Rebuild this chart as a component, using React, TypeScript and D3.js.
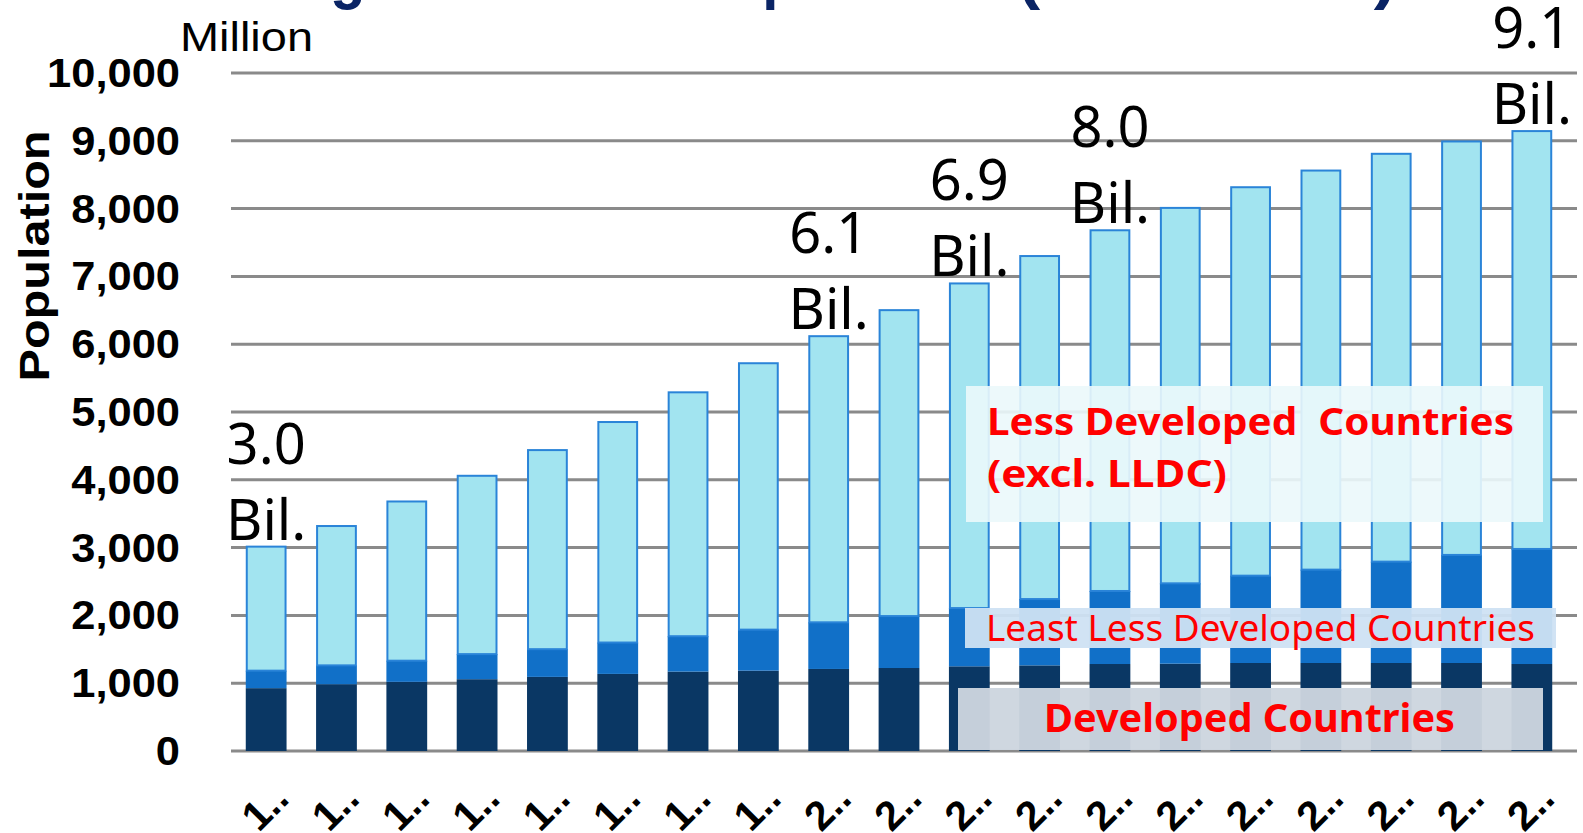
import React from 'react';
import * as d3 from 'd3';

const years = [1960, 1965, 1970, 1975, 1980, 1985, 1990, 1995, 2000, 2005, 2010, 2015, 2020, 2025, 2030, 2035, 2040, 2045, 2050];
const developed = [927, 985, 1020, 1059, 1093, 1137, 1171, 1185, 1210, 1224, 1249, 1263, 1283, 1288, 1298, 1298, 1298, 1298, 1283];
const leastDeveloped = [258, 278, 312, 370, 409, 463, 522, 605, 688, 766, 859, 978, 1077, 1185, 1288, 1377, 1495, 1594, 1697];
const otherLessDeveloped = [1844, 2070, 2363, 2645, 2951, 3267, 3612, 3944, 4235, 4527, 4803, 5074, 5335, 5552, 5744, 5901, 6030, 6113, 6178];
const xTickLabels = ['1..', '1..', '1..', '1..', '1..', '1..', '1..', '1..', '2..', '2..', '2..', '2..', '2..', '2..', '2..', '2..', '2..', '2..', '2..'];
const yTicks = [0, 1000, 2000, 3000, 4000, 5000, 6000, 7000, 8000, 9000, 10000];
const billionYears = [1960, 2000, 2010, 2020, 2050];
const billionTexts = ['3.0', '6.1', '6.9', '8.0', '9.1'];

const W = 1583;
const H = 833;

export default function App() {
  const x = d3.scaleBand<number>().domain(years).range([231, 1567]).paddingInner(0.42).paddingOuter(0.21);
  const y = d3.scaleLinear().domain([0, 10000]).range([751, 73]);
  const rows = years.map((yr, i) => ({ year: yr, dev: developed[i], lldc: leastDeveloped[i], ldc: otherLessDeveloped[i] }));
  const stack = d3.stack<any>().keys(['dev', 'lldc', 'ldc']);
  const series = stack(rows);
  const colors: Record<string, string> = { dev: '#0a3764', lldc: '#1170c8', ldc: '#a2e4f0' };
  const fmt = d3.format(',');
  const tickWidth = (s: string) => {
    let w = 0;
    for (const c of s) w += c === ',' ? 0.278 : 0.556;
    return w * 41 * 1.06;
  };
  const bw = x.bandwidth();
  const total = (i: number) => developed[i] + leastDeveloped[i] + otherLessDeveloped[i];

  return (
    <svg width={W} height={H} style={{ position: 'absolute', left: 0, top: 0, background: '#fff' }}>
      {/* title (cut off at top) */}
      <text y={-3} fill="#0a2465" fontFamily="Liberation Sans, Arial, sans-serif" fontWeight="bold" fontSize={64}>
        <tspan x={184} textLength={495} lengthAdjust="spacingAndGlyphs">Changes in World</tspan>
        <tspan x={688} textLength={300} lengthAdjust="spacingAndGlyphs">Population</tspan>
        <tspan x={1017} textLength={380} lengthAdjust="spacingAndGlyphs">(1960-2050)</tspan>
      </text>

      {/* gridlines */}
      {yTicks.map((t) => (
        <line key={'g' + t} x1={231} x2={1577} y1={y(t)} y2={y(t)} stroke="#8a8a8a" strokeWidth={3} />
      ))}

      {/* y tick labels */}
      {yTicks.map((t) => {
        const s = fmt(t);
        return (
          <text key={'t' + t} x={180} y={y(t)} dy={14} textAnchor="end" fontFamily="Liberation Sans, Arial, sans-serif"
            fontWeight="bold" fontSize={41} fill="#000" textLength={tickWidth(s)} lengthAdjust="spacingAndGlyphs">{s}</text>
        );
      })}

      <text x={180} y={51} fontFamily="Liberation Sans, Arial, sans-serif" fontSize={40} fill="#000"
        textLength={133} lengthAdjust="spacingAndGlyphs">Million</text>

      <text transform="translate(49,256) rotate(-90)" textAnchor="middle" fontFamily="Liberation Sans, Arial, sans-serif"
        fontWeight="bold" fontSize={43} fill="#000" textLength={251} lengthAdjust="spacingAndGlyphs">Population</text>

      {/* bars */}
      {series.map((s) => (
        <g key={s.key}>
          {s.map((d, i) => {
            const yr = years[i];
            const top = y(d[1]);
            const bot = y(d[0]);
            if (s.key === 'ldc') {
              return (
                <rect key={yr} x={(x(yr) as number) + 1} y={top + 1} width={bw - 2} height={bot - top - 1}
                  fill={colors[s.key]} stroke="#2a84d8" strokeWidth={2} />
              );
            }
            return <rect key={yr} x={x(yr)} y={top} width={bw} height={bot - top} fill={colors[s.key]} />;
          })}
        </g>
      ))}

      {/* billion labels */}
      {billionYears.map((yr, k) => {
        const i = years.indexOf(yr);
        const cx = (x(yr) as number) + bw / 2;
        const base = y(total(i)) - 6;
        return (
          <g key={'b' + yr} fontFamily="Noto Sans, Open Sans, sans-serif" fontSize={56} fill="#000" textAnchor="middle">
            <text x={cx} y={base - 76}>{billionTexts[k]}</text>
            <text x={cx} y={base}>Bil.</text>
          </g>
        );
      })}

      {/* overlay boxes */}
      <rect x={966} y={386} width={577} height={136} fill="#ebf8fb" opacity={0.9} />
      <text x={987} y={435} fill="#ff0000" fontFamily="Noto Sans, Open Sans, sans-serif" fontWeight="bold" fontSize={38}
        textLength={527} lengthAdjust="spacingAndGlyphs" style={{ whiteSpace: 'pre' }}>Less Developed  Countries</text>
      <text x={987} y={487} fill="#ff0000" fontFamily="Noto Sans, Open Sans, sans-serif" fontWeight="bold" fontSize={38}
        textLength={240} lengthAdjust="spacingAndGlyphs">(excl. LLDC)</text>

      <rect x={965} y={608} width={591} height={40} fill="#cfe2f3" opacity={0.95} />
      <text x={986} y={641} fill="#ff0000" fontFamily="Noto Sans, Open Sans, sans-serif" fontSize={37}
        textLength={549} lengthAdjust="spacingAndGlyphs">Least Less Developed Countries</text>

      <rect x={958} y={688} width={585} height={62} fill="#cdd5df" opacity={0.96} />
      <text x={1044} y={732} fill="#ff0000" fontFamily="Noto Sans, Open Sans, sans-serif" fontWeight="bold" fontSize={39}
        textLength={411} lengthAdjust="spacingAndGlyphs">Developed Countries</text>

      {/* x tick labels (truncated, rotated) */}
      {years.map((yr, i) => {
        const cx = (x(yr) as number) + bw / 2;
        return (
          <text key={'x' + yr} transform={`translate(${cx - 7.5},833) rotate(-45)`} fontFamily="Liberation Sans, Arial, sans-serif"
            fontWeight="bold" fontSize={41} fill="#000">{xTickLabels[i]}</text>
        );
      })}
    </svg>
  );
}
